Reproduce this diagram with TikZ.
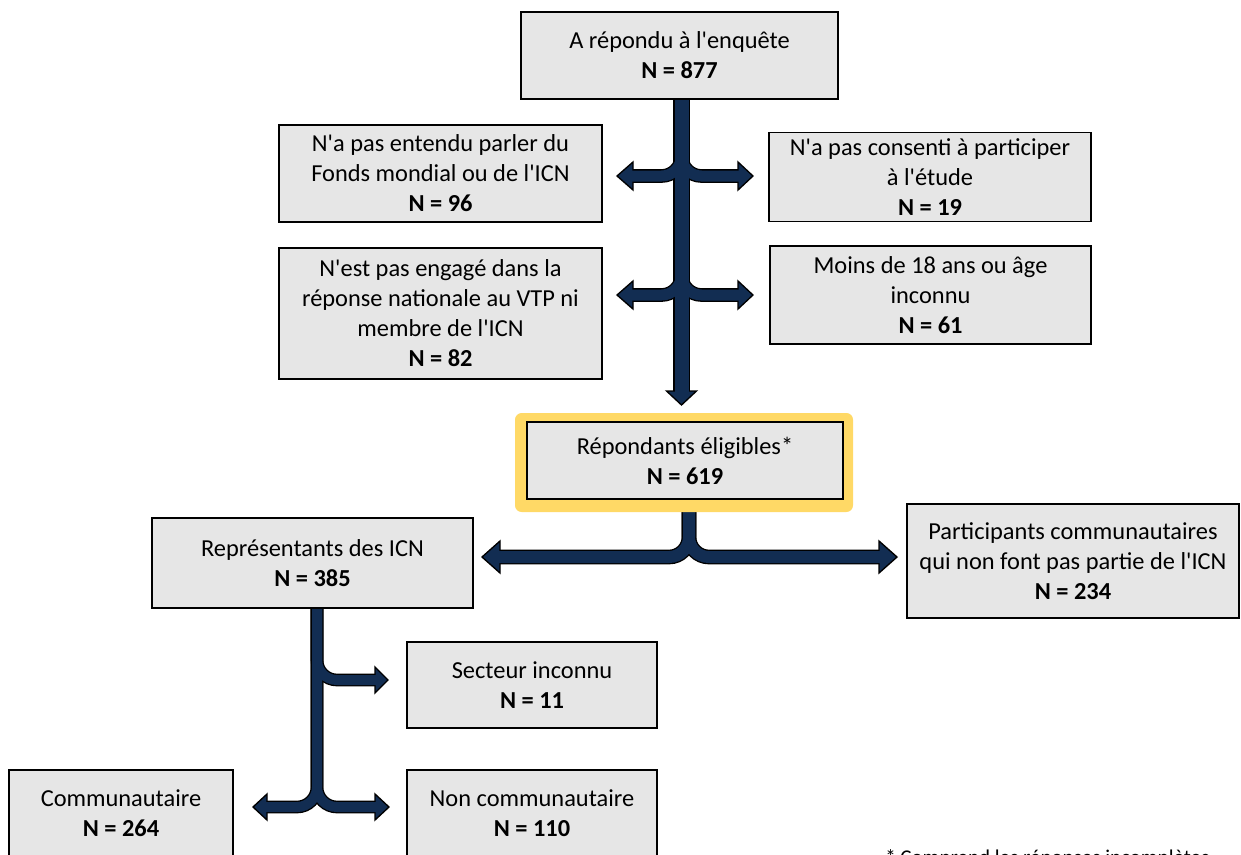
\documentclass[tikz,border=0pt]{standalone}
\usepackage{fontspec}
\setmainfont{Carlito}[Ligatures=TeXOff]
\definecolor{navy}{RGB}{18,45,82}
\definecolor{boxgrey}{RGB}{230,230,230}
\definecolor{gold}{RGB}{255,217,102}
\tikzset{
  gbox/.style={draw=black, fill=boxgrey, line width=1pt, align=center, inner sep=0pt,
    font=\fontsize{18.3}{22.5}\selectfont},
  sz/.style 2 args={minimum width=#1*0.75pt, minimum height=#2*0.75pt},
  ol/.style={draw=black, line width=#1, rounded corners=15pt},
  fl/.style={draw=navy, line width=#1, rounded corners=15pt},
  hd/.style={fill=navy, draw=black, line width=1pt, line join=miter},
}
\begin{document}
\begin{tikzpicture}[x=0.75pt,y=-0.75pt]
\useasboundingbox (0,0) rectangle (1241,854);
\clip (0,0) rectangle (1241,854);

% ---------- arrow key points ----------
\coordinate (s0) at (681.5,99);
\coordinate (s1) at (681.5,391);
\coordinate (s1t) at (681.5,405);
\coordinate (j0) at (689,512);
\coordinate (k0) at (317,606);

% ---------- arrows: outlines ----------
\draw[ol=12.5pt] (s0) -- (s1);
\foreach \yy in {176,295}{
  \draw[ol=10.25pt] (681.5,\yy-45) -- (681.5,\yy) -- (633,\yy);
  \draw[ol=10.25pt] (681.5,\yy-45) -- (681.5,\yy) -- (738,\yy);
}
\draw[ol=11pt] (j0) -- (689,557) -- (500,557);
\draw[ol=11pt] (j0) -- (689,557) -- (879,557);
\draw[ol=9.5pt] (k0) -- (317,680) -- (375,680);
\draw[ol=9.5pt] (k0) -- (317,807) -- (267,807);
\draw[ol=9.5pt] (k0) -- (317,807) -- (375,807);

% ---------- arrow heads ----------
\filldraw[hd] (666.5,391) -- (s1t) -- (696.5,391) -- cycle;
\foreach \yy in {176,295}{
  \filldraw[hd] (633,\yy-14) -- (617,\yy) -- (633,\yy+14) -- cycle;
  \filldraw[hd] (738,\yy-14) -- (753,\yy) -- (738,\yy+14) -- cycle;
}
\filldraw[hd] (500,541) -- (482,557) -- (500,573) -- cycle;
\filldraw[hd] (879,541) -- (897,557) -- (879,573) -- cycle;
\filldraw[hd] (375,667) -- (388,680) -- (375,693) -- cycle;
\filldraw[hd] (267,794) -- (253,807) -- (267,820) -- cycle;
\filldraw[hd] (375,794) -- (389,807) -- (375,820) -- cycle;

% ---------- arrows: fills ----------
\draw[fl=10.5pt] (s0) -- (681.5,394);
\foreach \yy in {176,295}{
  \draw[fl=8.25pt] (681.5,\yy-45) -- (681.5,\yy) -- (630,\yy);
  \draw[fl=8.25pt] (681.5,\yy-45) -- (681.5,\yy) -- (741,\yy);
}
\draw[fl=9pt] (j0) -- (689,557) -- (497,557);
\draw[fl=9pt] (j0) -- (689,557) -- (882,557);
\draw[fl=7.5pt] (k0) -- (317,680) -- (378,680);
\draw[fl=7.5pt] (k0) -- (317,807) -- (264,807);
\draw[fl=7.5pt] (k0) -- (317,807) -- (378,807);

% ---------- boxes ----------
\node[gbox, sz={317}{87}] (top) at (679.5,55.5) {A répondu à l'enquête\\\textbf{N = 877}};
\node[gbox, sz={323}{97}] (b96) at (440.5,173.5) {N'a pas entendu parler du\\Fonds mondial ou de l'ICN\\\textbf{N = 96}};
\node[gbox, sz={322}{89}] (b19) at (930,177) {N'a pas consenti à participer\\à l'étude\\\textbf{N = 19}};
\node[gbox, sz={323}{131}] (b82) at (440.5,313.5) {N'est pas engagé dans la\\réponse nationale au VTP ni\\membre de l'ICN\\\textbf{N = 82}};
\node[gbox, sz={321}{98}] (b61) at (930.5,295) {Moins de 18 ans ou âge\\inconnu\\\textbf{N = 61}};
\node[fill=gold, rounded corners=5pt, inner sep=0pt, sz={338}{99}] (eligbg) at (684,462.5) {};
\node[gbox, sz={316}{77}] (elig) at (685,460.5) {Répondants éligibles*\\\textbf{N = 619}};
\node[gbox, sz={321}{90}] (b385) at (312.5,563) {Représentants des ICN\\\textbf{N = 385}};
\node[gbox, sz={332}{114}] (b234) at (1073,561) {Participants communautaires\\qui non font pas partie de l'ICN\\\textbf{N = 234}};
\node[gbox, sz={250}{86}] (b11) at (532,685) {Secteur inconnu\\\textbf{N = 11}};
\node[gbox, sz={250}{86}] (b110) at (532,813) {Non communautaire\\\textbf{N = 110}};
\node[gbox, sz={224}{86}] (b264) at (121,813) {Communautaire\\\textbf{N = 264}};

% ---------- footnote (cut by the lower edge, as in the reference) ----------
\node[anchor=base west, inner sep=0pt, font=\fontsize{15.75}{19}\selectfont] (note) at (885,864) {* Comprend les réponses incomplètes};
\end{tikzpicture}
\end{document}
